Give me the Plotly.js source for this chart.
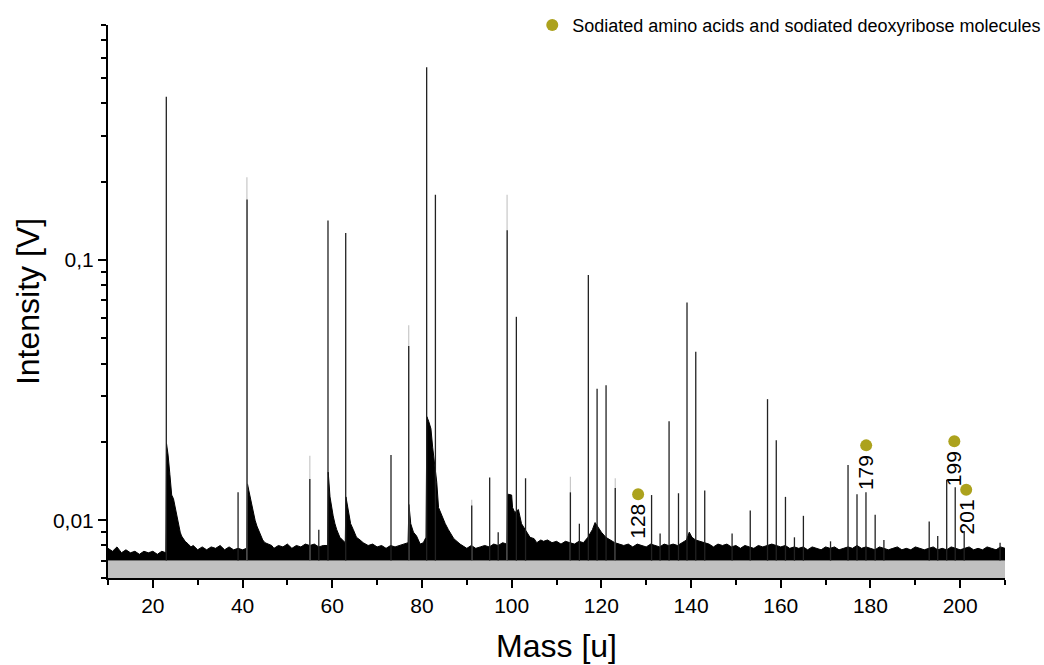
<!DOCTYPE html>
<html>
<head>
<meta charset="utf-8">
<script src="https://cdn.plot.ly/plotly-3.0.1.min.js"></script>
<style>html,body{margin:0;padding:0;background:#fff;}#chart{width:1044px;height:665px;}</style>
</head>
<body>
<div id="chart"></div>
<script>
// Peak positions (mass, u) and heights (V)
var peakMass = [23.0, 39.0, 41.0, 55.0, 57.0, 59.05, 63.0, 73.1, 77.05, 81.05, 83.0, 91.1, 95.1, 97.0, 99.0, 101.05, 103.1,
  113.1, 115.1, 117.1, 119.05, 121.05, 123.1, 131.2, 133.1, 135.1, 137.2, 139.1, 141.05, 143.05, 149.15, 153.2,
  157.05, 159.0, 161.05, 163.05, 165.05, 171.1, 175.0, 177.0, 179.0, 181.05, 183.0, 193.1, 195.0, 197.0, 198.9, 200.9, 208.9];
var peakHeight = [0.424, 0.0128, 0.171, 0.0144, 0.0092, 0.142, 0.127, 0.0178, 0.0467, 0.551, 0.178, 0.0114, 0.0146, 0.0090, 0.130, 0.0605, 0.0145,
  0.0128, 0.0097, 0.0876, 0.032, 0.033, 0.0133, 0.0125, 0.0089, 0.024, 0.0127, 0.0686, 0.0444, 0.0130, 0.0089, 0.0109,
  0.0292, 0.0203, 0.0123, 0.0086, 0.0104, 0.0083, 0.0163, 0.0126, 0.0128, 0.0105, 0.0084, 0.0099, 0.0087, 0.0143, 0.0134, 0.0091, 0.0082];

// Lighter tips above some peaks
var tipMass = [40.97, 55.0, 77.05, 91.1, 98.98, 113.1, 123.1];
var tipHeight = [0.208, 0.0177, 0.0562, 0.0120, 0.178, 0.0147, 0.0145];

// Upper edge of the dense noise band
var noiseMass = [10,11,12,13,14,15,16,17,18,19,20,21,22,22.9,23.05,23.4,23.8,24.2,24.6,24.9,25.3,25.7,26.1,26.4,26.8,27.2,27.9,28.5,29,30,
  31,32,33,34,35,36,37,38,39,40,40.9,41.1,41.4,41.7,42.0,42.4,42.8,43.2,43.9,44.5,45.0,46,46.5,47,48,49,50,51,52,53,54,55,56,57,58,
  59.0,59.1,59.5,59.9,60.2,60.6,61.0,61.7,62.5,62.9,63.05,63.6,64.1,64.7,65.4,66.2,66.9,68,69,70,71,72,73,74,75,76,76.9,77.1,77.5,78.1,78.8,79.6,80.3,80.9,
  81.1,81.5,82.0,82.4,82.8,83.3,83.7,84.4,85.2,85.9,86.5,87.1,88.5,89,90,91,92,93,94,95,96,97,98,98.9,99.1,100.0,100.2,100.7,101.5,102.2,103.0,104.1,105,105.6,106.5,107.1,
  108,109,110,111,112,113,114,115,116,117,118,118.6,119.2,120,121,122,123,124,125,126,127,128,129,130,131,132,133,134,135,136,137,138,139,139.6,140.2,141,142,143,
  144,145,146,147,148,149,150,151,152,153,154,155,156,157,158,159,160,161,162,163,164,165,166,167,168,169,170,171,172,173,174,175,176,177,178,179,180,
  181,182,183,184,185,186,187,188,189,190,191,192,193,194,195,196,197,198,199,200,201,202,203,204,205,206,207,208,209,210];
var noiseTop = [0.0078,0.0076,0.0079,0.0075,0.0077,0.0075,0.0076,0.0074,0.0076,0.0075,0.0076,0.0074,0.0076,0.0075,0.0197,0.0178,0.0150,0.0125,0.0121,0.0114,0.0104,0.0096,0.0090,0.0087,0.0085,0.0083,0.0081,0.0079,0.0080,0.0077,
  0.0079,0.0077,0.0079,0.0078,0.0080,0.0077,0.0079,0.0077,0.0078,0.0077,0.0078,0.0138,0.0130,0.0122,0.0115,0.0106,0.0100,0.0095,0.0088,0.0084,0.0082,0.0081,0.0080,0.0078,0.0080,0.0079,0.0081,0.0078,0.0080,0.0079,0.0081,0.0080,0.0081,0.0079,0.0080,
  0.0080,0.0153,0.0123,0.0110,0.0104,0.0097,0.0092,0.0086,0.0083,0.0082,0.0123,0.0109,0.0097,0.0092,0.0086,0.0084,0.0082,0.0080,0.0081,0.0079,0.0080,0.0078,0.0080,0.0079,0.0080,0.0081,0.0082,0.0115,0.0097,0.0090,0.0087,0.0081,0.0082,0.0086,
  0.0250,0.0240,0.0225,0.0190,0.0165,0.0140,0.0112,0.0104,0.0097,0.0092,0.0088,0.0085,0.0081,0.0080,0.0078,0.0080,0.0078,0.0079,0.0080,0.0079,0.0081,0.0080,0.0082,0.0081,0.0126,0.0125,0.0112,0.0107,0.0110,0.0097,0.0092,0.0086,0.0085,0.0082,0.0084,0.0083,
  0.0084,0.0082,0.0083,0.0081,0.0083,0.0082,0.0081,0.0083,0.0082,0.0086,0.0092,0.0098,0.0094,0.0090,0.0086,0.0084,0.0082,0.0081,0.0080,0.0081,0.0079,0.0081,0.0080,0.0079,0.0081,0.0080,0.0079,0.0081,0.0080,0.0081,0.0080,0.0082,0.0084,0.0090,0.0086,0.0084,0.0083,0.0082,
  0.0081,0.0079,0.0081,0.0080,0.0081,0.0079,0.0080,0.0078,0.0080,0.0079,0.0078,0.0080,0.0079,0.0080,0.0081,0.0080,0.0079,0.0080,0.0078,0.0079,0.0078,0.0079,0.0077,0.0079,0.0078,0.0077,0.0079,0.0078,0.0079,0.0077,0.0078,0.0079,0.0078,0.0080,0.0078,0.0079,0.0078,
  0.0077,0.0079,0.0078,0.0077,0.0078,0.0079,0.0077,0.0078,0.0077,0.0079,0.0078,0.0077,0.0078,0.0079,0.0077,0.0078,0.0077,0.0079,0.0078,0.0077,0.0078,0.0079,0.0077,0.0078,0.0077,0.0079,0.0078,0.0077,0.0079,0.0078];

var floorLevel = 0.007;   // top of the grey filled floor
var axisBottom = 0.006;
var axisTop = 0.8;

// Sodiated molecules (olive markers)
var sodMass = [128.2, 179.05, 198.7, 201.35];
var sodValue = [0.0126, 0.0194, 0.0201, 0.0131];
var sodLabels = ['128', '179', '199', '201'];
var sodName = 'Sodiated amino acids and sodiated deoxyribose molecules';

var yTickVals = [0.01, 0.1];
var yTickText = ['0,01', '0,1'];
var yMinorVals = [0.006,0.007,0.008,0.009,0.02,0.03,0.04,0.05,0.06,0.07,0.08,0.09,0.2,0.3,0.4,0.5,0.6,0.7,0.8];

var olive = '#aca21d';

// Build vertical stick coordinates from the peak arrays
function sticks(ms, hs) {
  var x = [], y = [];
  for (var i = 0; i < ms.length; i++) { x.push(ms[i], ms[i], null); y.push(floorLevel, hs[i], null); }
  return {x: x, y: y};
}
var pk = sticks(peakMass, peakHeight);
var tp = sticks(tipMass, tipHeight);

var traces = [
  {x: [10, 210], y: [axisBottom / 2, axisBottom / 2], mode: 'lines', line: {width: 0}, showlegend: false, hoverinfo: 'skip'},
  {x: [10, 210], y: [floorLevel, floorLevel], mode: 'lines', fill: 'tonexty', fillcolor: '#c0c0c0', line: {width: 0}, showlegend: false, hoverinfo: 'skip'},
  {x: noiseMass, y: noiseTop, mode: 'lines', fill: 'tonexty', fillcolor: '#000', line: {color: '#000', width: 1}, showlegend: false, hoverinfo: 'skip'},
  {x: tp.x, y: tp.y, mode: 'lines', line: {color: '#c8c8c8', width: 1.2}, showlegend: false, hoverinfo: 'skip'},
  {x: pk.x, y: pk.y, mode: 'lines', line: {color: '#222', width: 1.3}, showlegend: false, hoverinfo: 'skip'},
  {x: sodMass, y: sodValue, mode: 'markers', name: sodName, marker: {color: olive, size: 12}, showlegend: true}
];

var annotations = sodMass.map(function (m, i) {
  return {x: m, y: Math.log10(sodValue[i]), xref: 'x', yref: 'y', text: sodLabels[i], textangle: -90,
    showarrow: false, xanchor: 'center', yanchor: 'top', yshift: -8,
    font: {family: 'Liberation Sans, Arial, sans-serif', size: 21, color: '#000'}};
});

var layout = {
  width: 1044, height: 665,
  margin: {l: 108, r: 39, t: 25, b: 87, autoexpand: false},
  paper_bgcolor: '#fff', plot_bgcolor: '#fff',
  font: {family: 'Liberation Sans, Arial, sans-serif', color: '#000'},
  showlegend: true,
  legend: {x: 1.046, xanchor: 'right', y: 1.033, yanchor: 'top',
    bgcolor: 'rgba(0,0,0,0)', font: {size: 18, color: '#000'}, itemwidth: 30},
  xaxis: {
    range: [10, 210], tick0: 0, dtick: 20, ticks: 'outside', ticklen: 8, tickwidth: 2, tickcolor: '#000',
    showline: true, linewidth: 2, linecolor: '#000', showgrid: false, zeroline: false, automargin: false,
    tickfont: {size: 21}, minor: {dtick: 10, tick0: 0, ticks: 'outside', ticklen: 5, tickwidth: 2, tickcolor: '#000', showgrid: false},
    title: {text: 'Mass [u]', font: {size: 32}, standoff: 18}
  },
  yaxis: {
    type: 'log', range: [Math.log10(axisBottom), Math.log10(axisTop)],
    tickmode: 'array', tickvals: yTickVals, ticktext: yTickText,
    ticks: 'outside', ticklen: 8, tickwidth: 2, tickcolor: '#000',
    showline: true, linewidth: 2, linecolor: '#000', showgrid: false, zeroline: false, automargin: false,
    tickfont: {size: 21},
    minor: {tickmode: 'array', tickvals: yMinorVals, ticks: 'outside', ticklen: 5, tickwidth: 2, tickcolor: '#000', showgrid: false},
    title: {text: 'Intensity [V]', font: {size: 32}, standoff: 4}
  },
  annotations: annotations
};

Plotly.newPlot('chart', traces, layout, {displayModeBar: false, staticPlot: true});
</script>
</body>
</html>
